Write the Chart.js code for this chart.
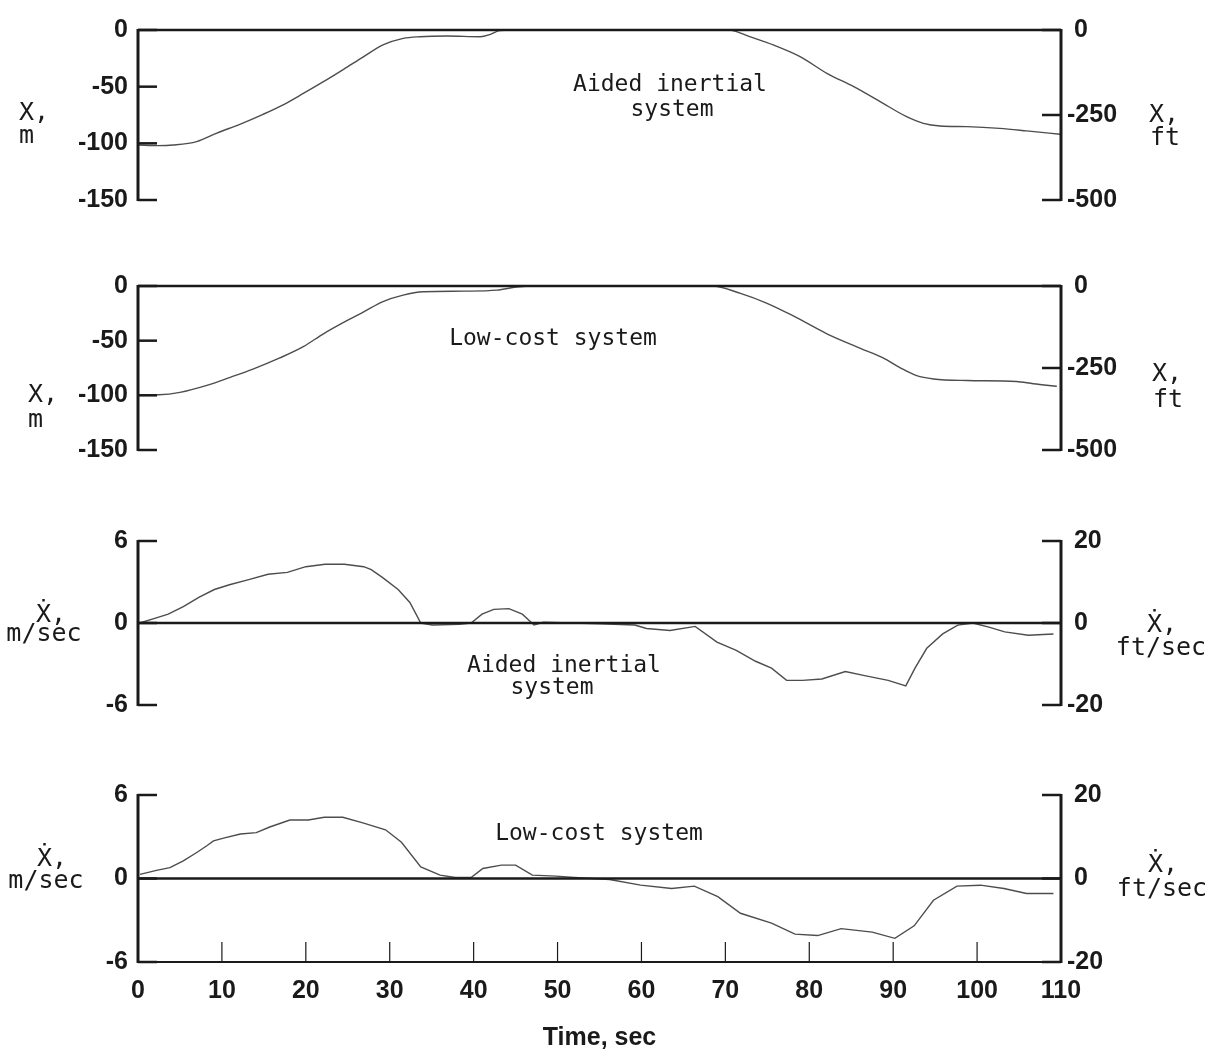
<!DOCTYPE html>
<html>
<head>
<meta charset="utf-8">
<title>Position and velocity histories</title>
<script src="https://cdn.jsdelivr.net/npm/chart.js@4.4.1/dist/chart.umd.min.js"></script>
<style>
  html, body { margin: 0; padding: 0; background: #fff; }
  #page { position: relative; width: 1210px; height: 1054px; overflow: hidden; }
  canvas { position: absolute; left: 0; }
</style>
</head>
<body>
<div id="page">
  <canvas id="chartPosAided" width="1210" height="230" style="top:0px"></canvas>
  <canvas id="chartPosLowCost" width="1210" height="235" style="top:240px"></canvas>
  <canvas id="chartVelAided" width="1210" height="240" style="top:490px"></canvas>
  <canvas id="chartVelLowCost" width="1210" height="294" style="top:760px"></canvas>
</div>
<script>
// Time samples (sec) and position X (m) - aided inertial system
const tPosAided = [0, 2.4, 4.2, 7.0, 9.4, 12.2, 14.9, 17.3, 19.7, 22.1, 24.5, 26.9, 29.2, 31.6, 33.6, 36.8, 40.8, 42.0, 43.1, 46.7, 50.7, 55.1, 59.0, 63.0, 67.0, 70.6, 72.9, 75.7, 78.9, 82.1, 85.3, 88.4, 91.6, 93.6, 95.6, 98.8, 102.7, 105.9, 109.9];
const posAided = [-101.5, -102, -101.5, -98.5, -91, -83, -74.4, -66, -56, -45.6, -34.7, -23.5, -13.2, -7.4, -5.9, -5.3, -5.9, -3.8, -0.6, 0.6, 1.5, 2.6, 1.5, 1.5, 1.2, 0, -5.9, -13.2, -23.5, -38.2, -50, -63, -76.5, -82.4, -84.7, -85.3, -86.8, -89, -92];

// Position X (m) - low-cost system
const tPosLowCost = [0, 2.5, 5.0, 8.2, 11.0, 13.7, 16.9, 19.7, 22.1, 24.5, 26.9, 29.2, 31.6, 34.0, 38.8, 42.8, 45.1, 46.7, 50.7, 55.1, 58.0, 61.0, 65.0, 68.6, 71.8, 74.9, 78.1, 82.1, 86.1, 88.8, 90.8, 92.8, 94.8, 98.8, 104.7, 106.7, 109.5];
const posLowCost = [-99.7, -99.5, -97.3, -90.9, -83.5, -76, -65.8, -55.5, -43.7, -33.3, -23.6, -14.2, -8.3, -5.3, -4.7, -3.8, -0.9, 0, 0.6, 2.0, 1.8, 1.2, 0.6, 0, -6.8, -15.6, -27.4, -43.7, -57, -65.8, -74.6, -82, -85, -86.4, -87.3, -89.4, -91.7];

// Velocity X-dot (m/sec) - aided inertial system
const tVelAided = [0.2, 1.8, 3.6, 5.4, 7.3, 9.1, 10.9, 13.2, 15.5, 17.8, 20.0, 22.3, 24.6, 26.9, 27.8, 29.2, 31.0, 32.4, 33.7, 35.1, 38.3, 39.7, 41.0, 42.4, 44.2, 45.8, 47.2, 48.3, 55.1, 59.2, 60.6, 63.4, 66.4, 69.0, 71.3, 73.6, 75.5, 77.3, 79.2, 81.5, 84.3, 86.6, 89.4, 91.5, 92.6, 94.0, 95.9, 97.7, 99.5, 101.4, 103.3, 106.1, 109.1];
const velAided = [0, 0.3, 0.65, 1.2, 1.9, 2.45, 2.8, 3.17, 3.57, 3.7, 4.12, 4.3, 4.3, 4.12, 3.9, 3.3, 2.45, 1.5, 0, -0.15, -0.1, 0, 0.65, 1.0, 1.05, 0.65, -0.15, 0.05, -0.05, -0.15, -0.4, -0.55, -0.25, -1.4, -2.0, -2.8, -3.3, -4.2, -4.2, -4.1, -3.55, -3.85, -4.2, -4.6, -3.3, -1.85, -0.8, -0.15, 0, -0.3, -0.65, -0.9, -0.8];

// Velocity X-dot (m/sec) - low-cost system
const tVelLowCost = [0.24, 2.2, 3.8, 5.4, 7.0, 8.2, 9.0, 10.2, 12.2, 14.1, 15.7, 18.1, 20.3, 22.2, 24.4, 26.8, 29.5, 31.4, 33.7, 36.0, 37.8, 39.7, 41.1, 43.3, 45.0, 47.0, 49.8, 52.0, 56.2, 59.9, 63.6, 66.3, 69.1, 71.8, 75.5, 78.3, 81.0, 83.8, 87.5, 90.2, 92.5, 94.8, 97.6, 100.4, 103.2, 105.9, 109.1];
const velLowCost = [0.3, 0.58, 0.78, 1.26, 1.87, 2.35, 2.7, 2.9, 3.2, 3.3, 3.7, 4.2, 4.2, 4.4, 4.4, 4.0, 3.5, 2.6, 0.84, 0.24, 0.07, 0.07, 0.72, 0.96, 0.96, 0.24, 0.17, 0.07, -0.07, -0.48, -0.72, -0.55, -1.3, -2.5, -3.2, -4.0, -4.1, -3.6, -3.85, -4.3, -3.4, -1.56, -0.55, -0.48, -0.72, -1.08, -1.08];

// Tick labels
const ticksPosM = [0, -50, -100, -150];
const ticksPosFt = [0, -250, -500];
const ticksVelM = [6, 0, -6];
const ticksVelFt = [20, 0, -20];
const ticksTime = [0, 10, 20, 30, 40, 50, 60, 70, 80, 90, 100, 110];

const INK = "#1a1a1a";
const MONO = '"DejaVu Sans Mono", monospace';

Chart.defaults.font.family = '"Liberation Sans", Arial, sans-serif';
Chart.defaults.font.size = 25;
Chart.defaults.font.weight = "bold";
Chart.defaults.color = INK;

// Axis frame: vertical axes with inward ticks, zero line, time axis
const marcoPlugin = {
  id: "marco",
  afterDatasetsDraw(chart, args, opts) {
    const { ctx, chartArea: a, scales } = chart;
    const line = (x1, y1, x2, y2) => {
      ctx.beginPath();
      ctx.moveTo(x1, y1);
      ctx.lineTo(x2, y2);
      ctx.stroke();
    };
    ctx.save();
    ctx.strokeStyle = INK;

    ctx.lineWidth = 3;
    line(a.left, a.top - 1, a.left, a.bottom + 1);
    line(a.right, a.top - 1, a.right, a.bottom + 1);

    ctx.lineWidth = 2.5;
    opts.izq.forEach((v) => {
      const py = scales.y.getPixelForValue(v);
      line(a.left, py, a.left + 19, py);
    });
    opts.der.forEach((v) => {
      const py = scales.y2.getPixelForValue(v);
      line(a.right - 19, py, a.right, py);
    });

    // reference line at zero
    const y0 = scales.y.getPixelForValue(0);
    line(a.left, y0, a.right, y0);

    if (opts.tiempo) {
      ctx.lineWidth = 2;
      line(a.left, a.bottom, a.right, a.bottom);
      ctx.lineWidth = 1.2;
      ticksTime.slice(1, -1).forEach((t) => {
        const px = scales.x.getPixelForValue(t);
        line(px, a.bottom, px, a.bottom - 20);
      });
    }
    ctx.restore();
  },
};

// Free text: axis names and system labels
const rotulosPlugin = {
  id: "rotulos",
  afterDraw(chart, args, opts) {
    const ctx = chart.ctx;
    ctx.save();
    ctx.fillStyle = INK;
    ctx.textBaseline = "alphabetic";
    opts.items.forEach((r) => {
      ctx.font = `${r.size}px ${MONO}`;
      ctx.textAlign = r.align || "center";
      ctx.fillText(r.text, r.x, r.y);
    });
    ctx.restore();
  },
};

function crearPanel(id, cfg) {
  const ctx = document.getElementById(id).getContext("2d");
  return new Chart(ctx, {
    type: "line",
    data: {
      datasets: [
        {
          data: cfg.t.map((t, i) => ({ x: t, y: cfg.v[i] })),
          borderColor: "#4d4d4d",
          borderWidth: 1.4,
          pointRadius: 0,
          cubicInterpolationMode: cfg.suave ? "monotone" : "default",
          tension: cfg.suave ? 0.4 : 0,
          yAxisID: "y",
        },
      ],
    },
    options: {
      responsive: false,
      animation: false,
      events: [],
      layout: { padding: { top: cfg.padTop, bottom: cfg.padBottom, left: 0, right: 0 } },
      plugins: {
        legend: { display: false },
        tooltip: { enabled: false },
        marco: { izq: cfg.ticksIzq, der: cfg.ticksDer, tiempo: cfg.tiempo },
        rotulos: { items: cfg.rotulos },
      },
      scales: {
        x: {
          type: "linear",
          min: 0,
          max: 110,
          display: cfg.tiempo,
          grid: { display: false },
          border: { display: false },
          afterBuildTicks: (s) => {
            s.ticks = ticksTime.map((v) => ({ value: v }));
          },
          afterFit: (s) => {
            // only the bottom panel carries the time axis
            if (cfg.tiempo) s.height = 92;
          },
          ticks: { padding: 6, maxRotation: 0, autoSkip: false, callback: (v) => String(v) },
          title: { display: true, text: "Time, sec", padding: { top: 0, bottom: 1 } },
        },
        y: {
          position: "left",
          min: cfg.rangoIzq[0],
          max: cfg.rangoIzq[1],
          grid: { display: false, drawTicks: false },
          border: { display: false },
          afterBuildTicks: (s) => {
            s.ticks = cfg.ticksIzq.map((v) => ({ value: v }));
          },
          afterFit: (s) => {
            s.width = 138;
          },
          ticks: { padding: 10, autoSkip: false, callback: (v) => String(v) },
        },
        y2: {
          position: "right",
          min: cfg.rangoDer[0],
          max: cfg.rangoDer[1],
          grid: { display: false, drawTicks: false },
          border: { display: false },
          afterBuildTicks: (s) => {
            s.ticks = cfg.ticksDer.map((v) => ({ value: v }));
          },
          afterFit: (s) => {
            s.width = 149;
          },
          ticks: { padding: 6, autoSkip: false, callback: (v) => (v < 0 ? String(v) : " " + v) },
        },
      },
    },
    plugins: [marcoPlugin, rotulosPlugin],
  });
}

crearPanel("chartPosAided", {
  t: tPosAided, v: posAided, suave: true, tiempo: false,
  padTop: 30, padBottom: 30,
  rangoIzq: [-150, 0], rangoDer: [-500, 0],
  ticksIzq: ticksPosM, ticksDer: ticksPosFt,
  rotulos: [
    { text: "Aided inertial", x: 670, y: 91, size: 23 },
    { text: "system", x: 672, y: 116, size: 23 },
    { text: "X,", x: 19, y: 120, size: 25, align: "left" },
    { text: "m", x: 19, y: 143, size: 25, align: "left" },
    { text: "X,", x: 1149, y: 122, size: 25, align: "left" },
    { text: "ft", x: 1150, y: 145, size: 25, align: "left" },
  ],
});

crearPanel("chartPosLowCost", {
  t: tPosLowCost, v: posLowCost, suave: true, tiempo: false,
  padTop: 46, padBottom: 20,
  rangoIzq: [-150, 0], rangoDer: [-500, 0],
  ticksIzq: ticksPosM, ticksDer: ticksPosFt,
  rotulos: [
    { text: "Low-cost system", x: 553, y: 105, size: 23 },
    { text: "X,", x: 28, y: 162, size: 25, align: "left" },
    { text: "m", x: 28, y: 187, size: 25, align: "left" },
    { text: "X,", x: 1152, y: 141, size: 25, align: "left" },
    { text: "ft", x: 1153, y: 167, size: 25, align: "left" },
  ],
});

crearPanel("chartVelAided", {
  t: tVelAided, v: velAided, suave: false, tiempo: false,
  padTop: 51, padBottom: 23,
  rangoIzq: [-6, 6], rangoDer: [-20, 20],
  ticksIzq: ticksVelM, ticksDer: ticksVelFt,
  rotulos: [
    { text: "Aided inertial", x: 564, y: 182, size: 23 },
    { text: "system", x: 552, y: 204, size: 23 },
    { text: "\u1E8A,", x: 51, y: 132, size: 25 },
    { text: "m/sec", x: 44, y: 151, size: 25 },
    { text: "\u1E8A,", x: 1162, y: 142, size: 25 },
    { text: "ft/sec", x: 1161, y: 165, size: 25 },
  ],
});

crearPanel("chartVelLowCost", {
  t: tVelLowCost, v: velLowCost, suave: false, tiempo: true,
  padTop: 35, padBottom: 0,
  rangoIzq: [-6, 6], rangoDer: [-20, 20],
  ticksIzq: ticksVelM, ticksDer: ticksVelFt,
  rotulos: [
    { text: "Low-cost system", x: 599, y: 80, size: 23 },
    { text: "\u1E8A,", x: 52, y: 106, size: 25 },
    { text: "m/sec", x: 46, y: 128, size: 25 },
    { text: "\u1E8A,", x: 1163, y: 112, size: 25 },
    { text: "ft/sec", x: 1162, y: 136, size: 25 },
  ],
});
</script>
</body>
</html>
